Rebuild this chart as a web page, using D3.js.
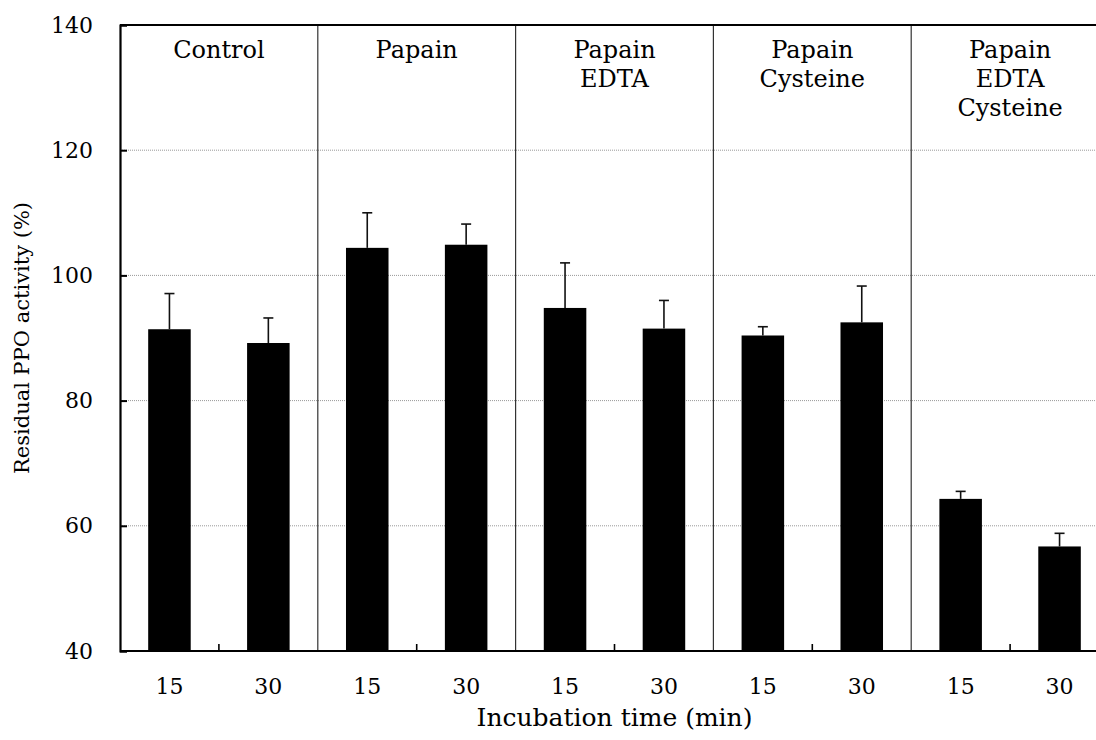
<!DOCTYPE html>
<html>
<head>
<meta charset="utf-8">
<script src="https://cdn.jsdelivr.net/npm/d3@7"></script>
<style>
  body { margin: 0; background: #fff; }
  svg { display: block; font-family: "DejaVu Serif", serif; }
</style>
</head>
<body>
<svg id="chart" width="1096" height="740"></svg>
<script>
// treatments (panel headers, one line per entry)
const groups = ["Control", "Papain", "Papain EDTA", "Papain Cysteine", "Papain EDTA Cysteine"];
const groupLines = [["Control"], ["Papain"], ["Papain", "EDTA"], ["Papain", "Cysteine"], ["Papain", "EDTA", "Cysteine"]];
const times = ["15", "30"];

// residual activity (%) for 15 and 30 min, per treatment
const activity15 = [91.4, 104.4, 94.8, 90.4, 64.3];
const activity30 = [89.2, 104.9, 91.5, 92.5, 56.7];
const err15 = [5.7, 5.6, 7.2, 1.4, 1.2];
const err30 = [4.0, 3.3, 4.5, 5.8, 2.1];

const yTicks = [40, 60, 80, 100, 120, 140];

const svg = d3.select("#chart");
const mLeft = 120, mRight = 1109, mTop = 25, mBottom = 651;

const data = [];
groups.forEach(function(g, i) {
  data.push({ group: g, time: times[0], key: g + "|" + times[0], v: activity15[i], e: err15[i] });
  data.push({ group: g, time: times[1], key: g + "|" + times[1], v: activity30[i], e: err30[i] });
});

let x0 = d3.scaleBand().domain(groups).range([mLeft, mRight]);
let x = d3.scaleBand().domain(data.map(d => d.key)).range([mLeft, mRight]);
let y = d3.scaleLinear().domain([40, 140]).range([mBottom, mTop]);

let barW = x.bandwidth() * 0.43;

// gridlines
svg.append("g").selectAll("line")
  .data(yTicks.filter(t => t > 40 && t < 140))
  .enter().append("line")
  .attr("x1", mLeft).attr("x2", mRight)
  .attr("y1", d => y(d)).attr("y2", d => y(d))
  .attr("stroke", "#999")
  .attr("stroke-width", 1)
  .attr("stroke-dasharray", "1,1");

// panel dividers
svg.append("g").selectAll("line")
  .data(groups.slice(1))
  .enter().append("line")
  .attr("x1", d => x0(d)).attr("x2", d => x0(d))
  .attr("y1", mTop).attr("y2", mBottom)
  .attr("stroke", "#333")
  .attr("stroke-width", 1.2);

// bars
svg.append("g").selectAll("rect")
  .data(data)
  .enter().append("rect")
  .attr("x", d => x(d.key) + x.bandwidth() / 2 - barW / 2)
  .attr("y", d => y(d.v))
  .attr("width", barW)
  .attr("height", d => y(40) - y(d.v))
  .attr("fill", "#000");

// error bars (upper only)
let eb = svg.append("g").attr("stroke", "#111").attr("stroke-width", 1.6);
eb.selectAll("line.v")
  .data(data).enter().append("line").attr("class", "v")
  .attr("x1", d => x(d.key) + x.bandwidth() / 2)
  .attr("x2", d => x(d.key) + x.bandwidth() / 2)
  .attr("y1", d => y(d.v)).attr("y2", d => y(d.v + d.e));
eb.selectAll("line.c")
  .data(data).enter().append("line").attr("class", "c")
  .attr("x1", d => x(d.key) + x.bandwidth() / 2 - 5)
  .attr("x2", d => x(d.key) + x.bandwidth() / 2 + 5)
  .attr("y1", d => y(d.v + d.e)).attr("y2", d => y(d.v + d.e));

// frame: left axis, top and bottom
let yAxis = d3.axisLeft(y).tickValues(yTicks).tickSize(-7).tickPadding(27);
let ya = svg.append("g").attr("transform", "translate(" + mLeft + ",0)").call(yAxis);
ya.select(".domain").attr("stroke-width", 2.2);
ya.selectAll(".tick line").attr("stroke-width", 2);
ya.selectAll(".tick text")
  .style("font-family", "DejaVu Serif")
  .style("font-size", "22px")
  .attr("fill", "#000");

svg.append("line")
  .attr("x1", mLeft).attr("x2", mRight)
  .attr("y1", mTop).attr("y2", mTop)
  .attr("stroke", "#000").attr("stroke-width", 2);

// x axis: labels under bars, ticks between 15 and 30
let xAxis = d3.axisBottom(x).tickSize(0).tickPadding(27).tickFormat(d => d.split("|")[1]);
let xa = svg.append("g").attr("transform", "translate(0," + mBottom + ")").call(xAxis);
xa.select(".domain").remove();
xa.selectAll(".tick text")
  .style("font-family", "DejaVu Serif")
  .style("font-size", "22px")
  .attr("fill", "#000");

svg.append("line")
  .attr("x1", mLeft).attr("x2", mRight)
  .attr("y1", mBottom).attr("y2", mBottom)
  .attr("stroke", "#000").attr("stroke-width", 2.2);

svg.append("g").selectAll("line")
  .data(groups)
  .enter().append("line")
  .attr("x1", d => x0(d) + x0.bandwidth() / 2)
  .attr("x2", d => x0(d) + x0.bandwidth() / 2)
  .attr("y1", mBottom).attr("y2", mBottom - 7)
  .attr("stroke", "#000").attr("stroke-width", 1.6);

// panel headers
groups.forEach(function(g, i) {
  let t = svg.append("text")
    .attr("x", x0(g) + x0.bandwidth() / 2)
    .attr("y", 58)
    .attr("text-anchor", "middle")
    .style("font-size", "24px")
    .attr("fill", "#000");
  groupLines[i].forEach(function(line, j) {
    t.append("tspan")
      .attr("x", x0(g) + x0.bandwidth() / 2)
      .attr("y", 58 + j * 29)
      .text(line);
  });
});

// axis titles
svg.append("text")
  .attr("x", (mLeft + mRight) / 2)
  .attr("y", 726)
  .attr("text-anchor", "middle")
  .style("font-size", "25px")
  .text("Incubation time (min)");

svg.append("text")
  .attr("transform", "rotate(-90)")
  .attr("x", -(mTop + mBottom) / 2)
  .attr("y", 29)
  .attr("text-anchor", "middle")
  .style("font-size", "21px")
  .text("Residual PPO activity (%)");
</script>
</body>
</html>
